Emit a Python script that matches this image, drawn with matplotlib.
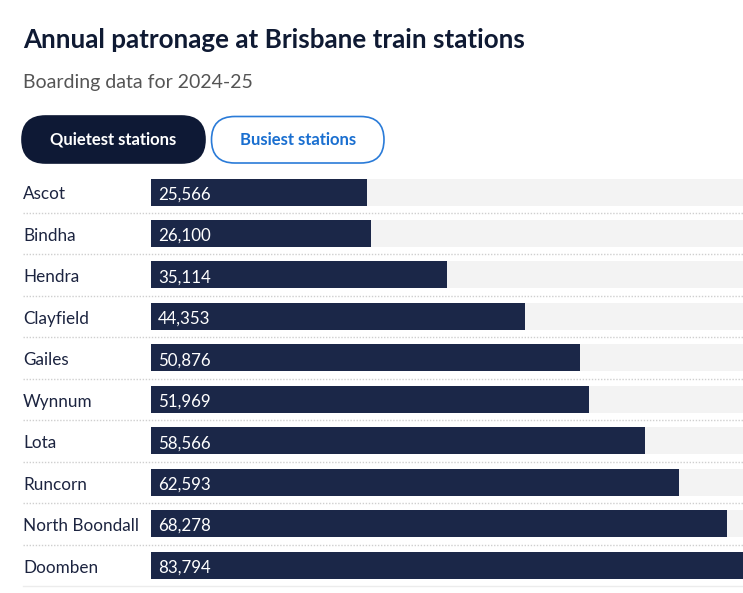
import matplotlib
matplotlib.use("Agg")
import matplotlib.pyplot as plt
from matplotlib.patches import FancyBboxPatch
from matplotlib.transforms import blended_transform_factory, Affine2D, ScaledTranslation

stations = ["Ascot", "Bindha", "Hendra", "Clayfield", "Gailes", "Wynnum",
            "Lota", "Runcorn", "North Boondall", "Doomben"]
boardings = [25566, 26100, 35114, 44353, 50876, 51969, 58566, 62593, 68278, 83794]
title = "Annual patronage at Brisbane train stations"
subtitle = "Boarding data for 2024-25"
buttons = ["Quietest stations", "Busiest stations"]

W, H = 743, 593
fig = plt.figure(figsize=(W / 100, H / 100), dpi=100)
FONT = "Lato"
NAVY = "#1b2748"
TEXT = "#1c2440"

def fx(px):
    return px / W

def fy(py):
    return 1 - py / H

# visible scale: the chart's value axis extends beyond the right edge of the image
X_VISIBLE_MAX = 70180

top_px, bot_px = 171.3, 586.0
ax = fig.add_axes([fx(151), fy(bot_px), fx(743) - fx(151), (bot_px - top_px) / H])
n = len(stations)
ax.set_xlim(0, X_VISIBLE_MAX)
ax.set_ylim(n - 0.5, -0.5)
ax.axis("off")

ys = list(range(n))
track = max(max(boardings), X_VISIBLE_MAX) * 1.5
ax.barh(ys, [track] * n, height=0.65, color="#f3f3f3", zorder=1)
ax.barh(ys, boardings, height=0.65, color=NAVY, zorder=2)

trans = blended_transform_factory(fig.transFigure, ax.transData)
down = ScaledTranslation(0, -7.3 / 100, fig.dpi_scale_trans)
for i, (s, v) in enumerate(zip(stations, boardings)):
    fig.text(fx(23), i, s, transform=trans + down, fontsize=12.3, family=FONT,
             color=TEXT, va="baseline", ha="left")
    ax.text(X_VISIBLE_MAX * 7 / 592, i, f"{v:,}", color="white", fontsize=12.2,
            family=FONT, va="baseline", ha="left", zorder=3,
            transform=ax.transData + down)

# separators
for i in range(n - 1):
    fig.add_artist(plt.Line2D([fx(23), 1], [i + 0.5, i + 0.5], transform=trans,
                              color="#cfcfcf", lw=1, ls=(0, (1, 1.2))))
fig.add_artist(plt.Line2D([fx(23), 1], [n - 0.5, n - 0.5], transform=trans,
                          color="#ececec", lw=1))

# title & subtitle
fig.text(fx(23), fy(48), title, fontsize=18.7, fontweight="bold", family=FONT,
         color="#0f1a33", va="baseline", ha="left")
fig.text(fx(23), fy(88), subtitle, fontsize=14, family=FONT,
         color="#555555", va="baseline", ha="left")

# buttons
pixel_tr = Affine2D().scale(1 / W, 1 / H) + fig.transFigure

def button(x0, x1, y0, y1, label, fill, edge, tcolor):
    w = x1 - x0
    h = y1 - y0
    r = h / 2
    patch = FancyBboxPatch((x0, H - y1), w, h,
                           boxstyle=f"round,pad=0,rounding_size={r}",
                           facecolor=fill, edgecolor=edge, lw=1.2,
                           transform=pixel_tr)
    fig.add_artist(patch)
    fig.text(fx((x0 + x1) / 2), fy((y0 + y1) / 2), label, fontsize=12,
             fontweight="bold", family=FONT, color=tcolor, ha="center", va="center")

button(22, 205, 116, 163, buttons[0], "#0e1935", "#0e1935", "white")
button(211.5, 384, 116.5, 163, buttons[1], "white", "#2a7bd8", "#1a6fd0")

fig.savefig("out.png", dpi=100)
